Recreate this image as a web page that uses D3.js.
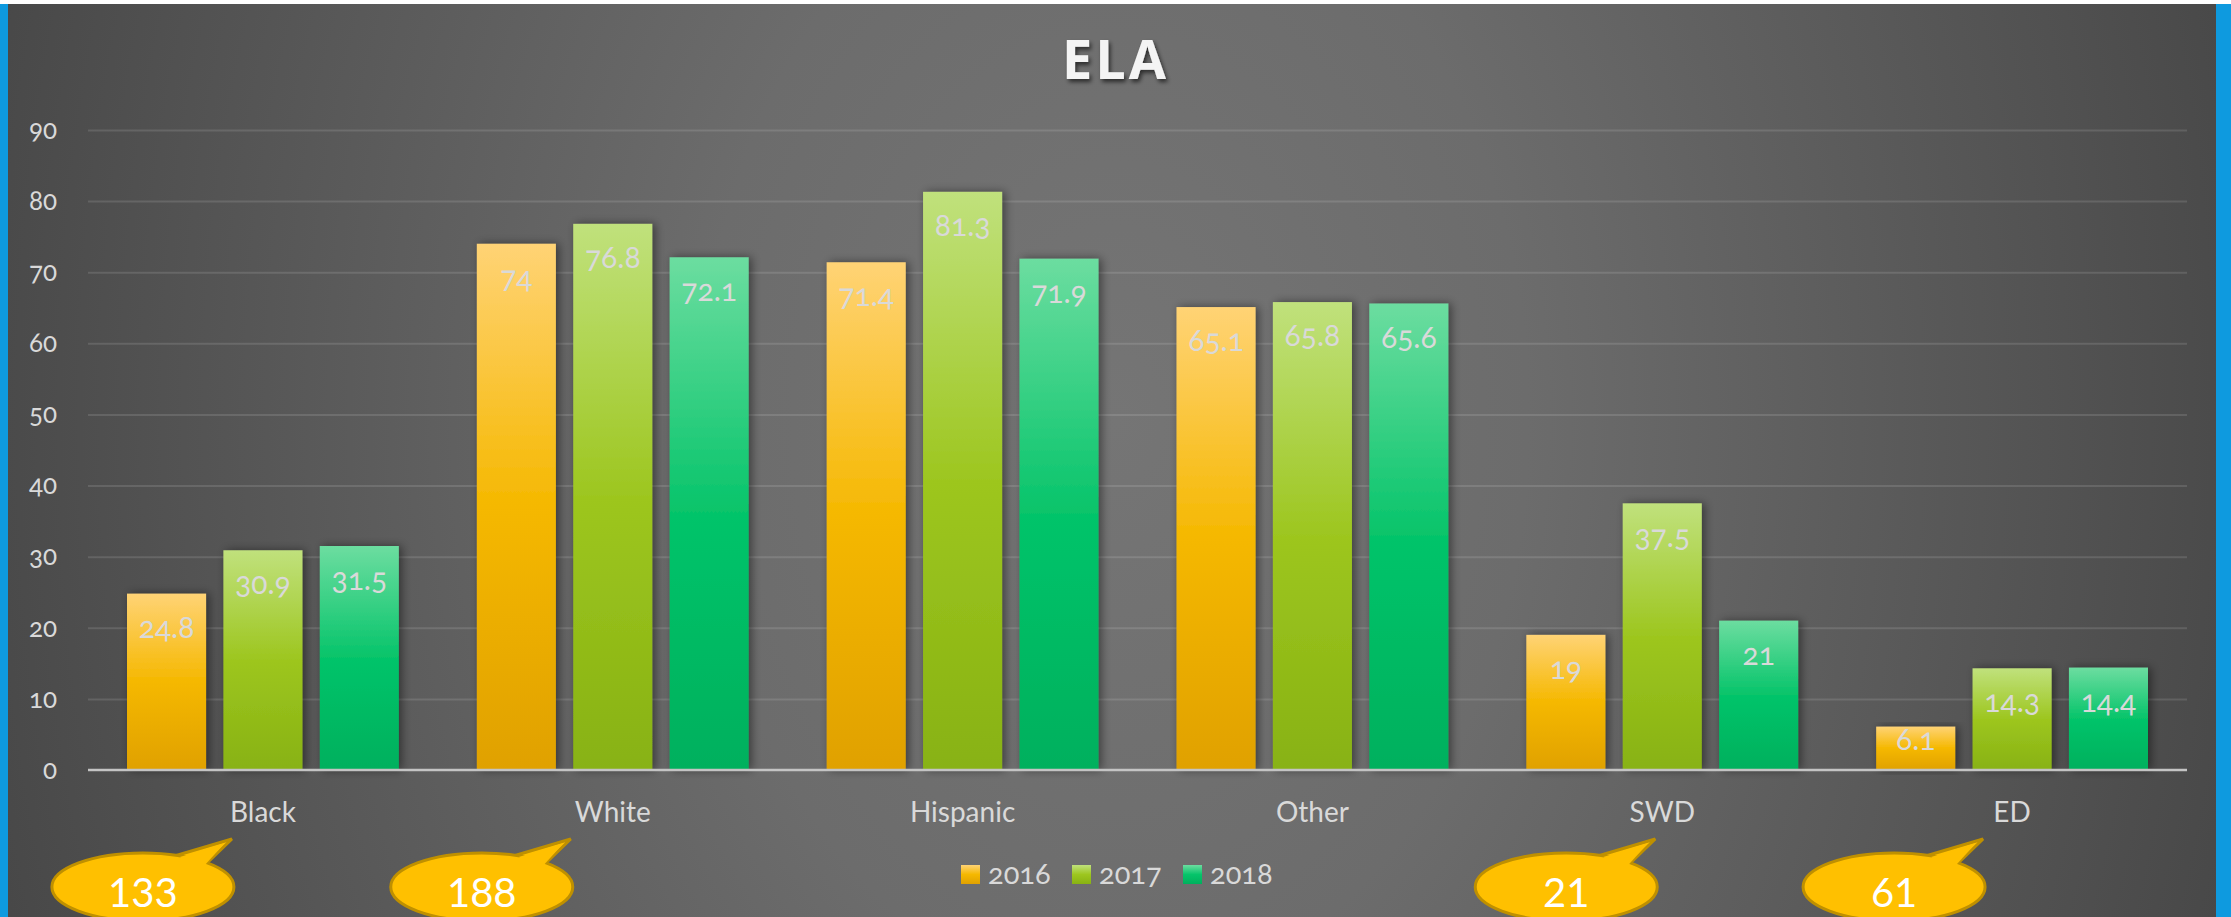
<!DOCTYPE html>
<html>
<head>
<meta charset="utf-8">
<script src="https://cdn.jsdelivr.net/npm/d3@7"></script>
<style>
  html, body { margin: 0; padding: 0; background: #ffffff; overflow: hidden; }
  svg { display: block; }
  text { font-family: "Lato", "Open Sans", sans-serif; font-variant-numeric: oldstyle-nums; font-feature-settings: "onum" 1; }
</style>
</head>
<body>
<script>
// ---- data ----
const categories = ["Black", "White", "Hispanic", "Other", "SWD", "ED"];
const seriesNames = ["2016", "2017", "2018"];
const values2016 = [24.8, 74, 71.4, 65.1, 19, 6.1];
const values2017 = [30.9, 76.8, 81.3, 65.8, 37.5, 14.3];
const values2018 = [31.5, 72.1, 71.9, 65.6, 21, 14.4];
const yTickValues = [0, 10, 20, 30, 40, 50, 60, 70, 80, 90];
const chartTitle = "ELA";
const calloutCategories = ["Black", "White", "SWD", "ED"];
const calloutValues = [133, 188, 21, 61];

// ---- layout / style ----
const W = 2231, H = 917;
const plot = { left: 88, right: 2187, top: 130, bottom: 770 };
const calloutDx = [-120, -131, -96, -118];
const seriesColors = [
  ["#FFD375", "#F5B800", "#E0A100"],
  ["#C0E17C", "#9DC61F", "#88B213"],
  ["#6CDDA0", "#06C46A", "#00B05D"]
];
const labelColor = "#d9d9d9";

const seriesValues = [values2016, values2017, values2018];

const svg = d3.select("body").append("svg").attr("width", W).attr("height", H);
const defs = svg.append("defs");

// background gradient
const bg = defs.append("radialGradient").attr("id", "bgGrad")
  .attr("gradientUnits", "userSpaceOnUse")
  .attr("cx", 1115).attr("cy", 420).attr("r", 1180)
  .attr("gradientTransform", "translate(1115,420) scale(1,1.4) translate(-1115,-420)");
bg.append("stop").attr("offset", 0).attr("stop-color", "#757575");
bg.append("stop").attr("offset", 0.35).attr("stop-color", "#6c6c6c");
bg.append("stop").attr("offset", 1).attr("stop-color", "#474747");

seriesColors.forEach((c, i) => {
  const g = defs.append("linearGradient").attr("id", "barGrad" + i)
    .attr("x1", 0).attr("y1", 0).attr("x2", 0).attr("y2", 1);
  g.append("stop").attr("offset", 0).attr("stop-color", c[0]);
  g.append("stop").attr("offset", 0.5).attr("stop-color", c[1]);
  g.append("stop").attr("offset", 1).attr("stop-color", c[2]);
});

const shadow = defs.append("filter").attr("id", "barShadow")
  .attr("x", "-30%").attr("y", "-10%").attr("width", "160%").attr("height", "120%");
shadow.append("feDropShadow").attr("dx", 3).attr("dy", 0).attr("stdDeviation", 5)
  .attr("flood-color", "#000").attr("flood-opacity", 0.45);

const titleShadow = defs.append("filter").attr("id", "titleShadow")
  .attr("x", "-20%").attr("y", "-20%").attr("width", "140%").attr("height", "150%");
titleShadow.append("feDropShadow").attr("dx", 2).attr("dy", 3).attr("stdDeviation", 2)
  .attr("flood-color", "#000").attr("flood-opacity", 0.6);

// background
svg.append("rect").attr("width", W).attr("height", H).attr("fill", "url(#bgGrad)");
svg.append("rect").attr("x", 0).attr("y", 0).attr("width", W).attr("height", 4).attr("fill", "#ffffff");
svg.append("rect").attr("x", 0).attr("y", 4).attr("width", 8).attr("height", H).attr("fill", "#0E9ADF");
svg.append("rect").attr("x", 2216).attr("y", 4).attr("width", W - 2216).attr("height", H).attr("fill", "#0E9ADF");

// scales
const x0 = d3.scaleBand().domain(categories).range([plot.left, plot.right])
  .paddingInner(0.223).paddingOuter(0.1115);
const x1 = d3.scaleBand().domain(seriesNames).range([0, x0.bandwidth()])
  .paddingInner(0.18).paddingOuter(0);
const y = d3.scaleLinear().domain([0, 90]).range([plot.bottom, plot.top]);

// gridlines
const grid = svg.append("g").attr("transform", `translate(${plot.left},0)`)
  .call(d3.axisLeft(y).tickValues(yTickValues.filter(v => v > 0))
    .tickSize(-(plot.right - plot.left)).tickFormat(""));
grid.select(".domain").remove();
grid.selectAll(".tick line").attr("stroke", "#ffffff").attr("stroke-opacity", 0.12).attr("stroke-width", 2);

// y axis labels
const yAxis = svg.append("g").attr("transform", `translate(57,0)`)
  .call(d3.axisLeft(y).tickValues(yTickValues).tickSize(0).tickPadding(0).tickFormat(d3.format("d")));
yAxis.select(".domain").remove();
yAxis.selectAll(".tick text").attr("fill", labelColor).attr("font-size", 26).attr("text-anchor", "end");

// bars
const groups = svg.append("g").selectAll("g").data(categories).join("g")
  .attr("transform", d => `translate(${x0(d)},0)`);

groups.each(function (cat, ci) {
  const g = d3.select(this);
  const rows = seriesNames.map((s, si) => ({ s, si, v: seriesValues[si][ci] }));
  g.selectAll("rect").data(rows).join("rect")
    .attr("x", d => x1(d.s))
    .attr("y", d => y(d.v))
    .attr("width", x1.bandwidth())
    .attr("height", d => y(0) - y(d.v))
    .attr("fill", d => `url(#barGrad${d.si})`)
    .attr("filter", "url(#barShadow)");
  g.selectAll("text").data(rows).join("text")
    .attr("x", d => x1(d.s) + x1.bandwidth() / 2)
    .attr("y", d => Math.min(y(d.v) + 44, y(0) - 20))
    .attr("text-anchor", "middle")
    .attr("fill", labelColor)
    .attr("font-size", 30)
    .text(d => d.v);
});

// x axis
const xAxis = svg.append("g").attr("transform", `translate(0,${plot.bottom})`)
  .call(d3.axisBottom(x0).tickSize(0).tickPadding(0));
xAxis.select(".domain").attr("stroke", "#c4c4c4").attr("stroke-width", 2.5)
  .attr("d", `M${plot.left},0H${plot.right}`);
xAxis.selectAll(".tick text").attr("fill", labelColor).attr("font-size", 28)
  .attr("dy", 0).attr("y", 52);

// title
svg.append("text").attr("x", W / 2).attr("y", 79).attr("text-anchor", "middle")
  .attr("fill", "#f4f4f4").attr("font-size", 54).attr("font-weight", 700)
  .attr("letter-spacing", 3).attr("filter", "url(#titleShadow)")
  .style("font-family", "'Open Sans', 'Lato', sans-serif")
  .text(chartTitle);

// legend
const legendStart = 961, legendStep = 112;
const legend = svg.append("g").selectAll("g").data(seriesNames).join("g")
  .attr("transform", (d, i) => `translate(${legendStart + i * (legendStep - (i > 0 ? 1 : 0))},865)`);
legend.append("rect").attr("width", 19).attr("height", 19)
  .attr("fill", (d, i) => `url(#barGrad${i})`);
legend.append("text").attr("x", 27).attr("y", 19).attr("fill", labelColor)
  .attr("font-size", 29).text(d => d);

// callouts
const callouts = svg.append("g").selectAll("g").data(calloutCategories).join("g")
  .attr("transform", (d, i) => `translate(${x0(d) + x0.bandwidth() / 2 + calloutDx[i]},887)`);
const rx = 91, ry = 34;
const tail = "M35,-32 L89,-48 L64,-24";
callouts.append("path").attr("d", tail + "Z").attr("fill", "#FFC000")
  .attr("stroke", "#BF9000").attr("stroke-width", 3).attr("stroke-linejoin", "miter");
callouts.append("ellipse").attr("rx", rx).attr("ry", ry).attr("fill", "#FFC000")
  .attr("stroke", "#BF9000").attr("stroke-width", 3);
callouts.append("path").attr("d", "M37,-30 L82,-44 L62,-22 L50,-20 Z").attr("fill", "#FFC000");
callouts.append("text").attr("x", 0).attr("y", 20).attr("text-anchor", "middle")
  .attr("fill", "#ffffff").attr("font-size", 40)
  .style("font-variant-numeric", "lining-nums")
  .text((d, i) => calloutValues[i]);
</script>
</body>
</html>
